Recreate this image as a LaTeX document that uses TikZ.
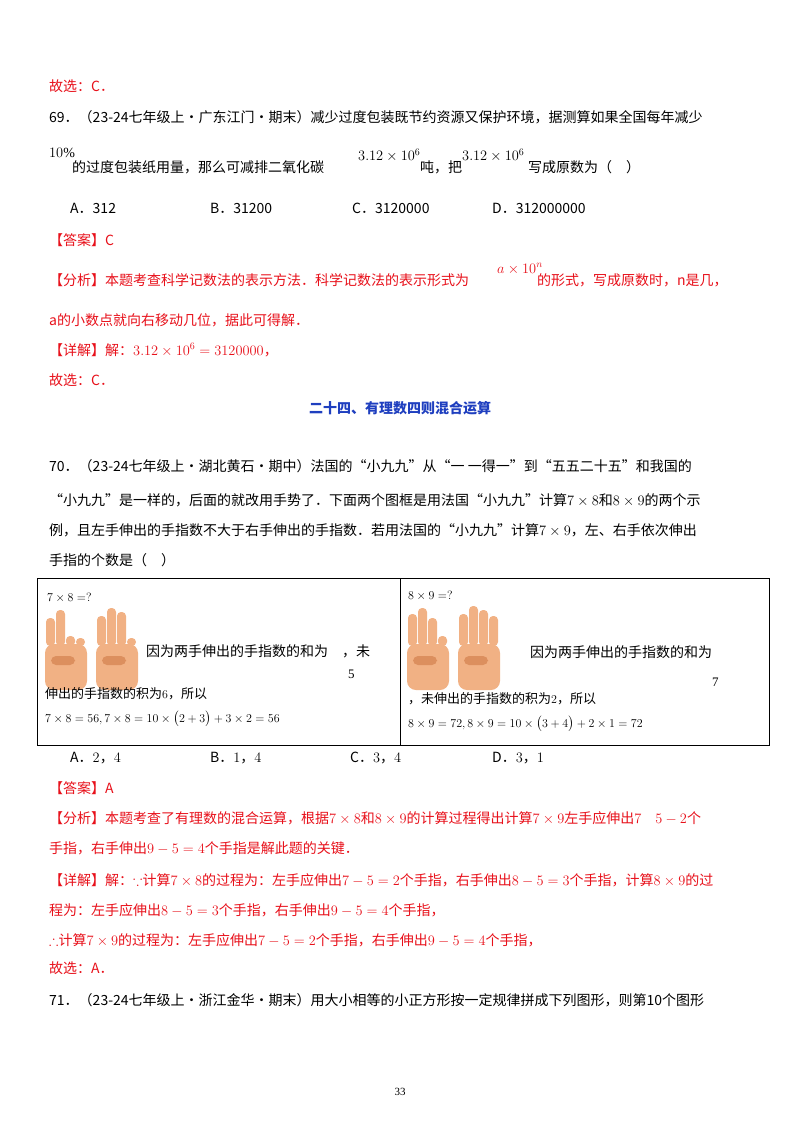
\documentclass[tikz,border=0pt]{standalone}
\usepackage{fontspec}
\usepackage{amsmath,amssymb}
\setmainfont{Liberation Serif}
\newfontfamily\cjk{Noto Sans CJK SC}
\definecolor{ansred}{HTML}{E8101A}
\definecolor{headblue}{HTML}{1F3FBF}
\definecolor{skin}{HTML}{F1B184}
\definecolor{skind}{HTML}{DC8F5E}
\tikzset{t/.style={anchor=west,inner sep=0pt,font=\cjk\fontsize{14}{16}\selectfont},
 r/.style={t,text=ansred},
 bt/.style={t,font=\cjk\fontsize{13}{14}\selectfont},
 box/.style={draw,line width=1pt}}
\newcommand{\myhand}[3]{% x, y(top of palm), finger heights list
 \foreach \h [count=\i] in {#3}{
   \fill[skin,rounded corners=4pt] ({#1+1+(\i-1)*10},#2+4) rectangle ++(9,\h);
 }
 \fill[skin,rounded corners=9pt] (#1,#2+6) rectangle ++(42,-46);
 \fill[skind,rounded corners=5pt] ({#1+6},#2-6) rectangle ++(24,-9);
}
\begin{document}
\begin{tikzpicture}[x=1pt,y=1pt]
\useasboundingbox[fill=white] (0,0) rectangle (800,-1132);
\node[r] (l1) at (49,-86) {故选：C．};
\node[t] (q69) at (49,-117) {69．（23-24七年级上·广东江门·期末）减少过度包装既节约资源又保护环境，据测算如果全国每年减少};
\node[t] (p10) at (49,-153) {$10\%$};
\node[t] (q69b) at (72,-167) {的过度包装纸用量，那么可减排二氧化碳};
\node[t] (n1) at (358,-155) {$3.12\times10^{6}$};
\node[t] (q69c) at (420,-167) {吨，把};
\node[t] (n2) at (462,-155) {$3.12\times10^{6}$};
\node[t] (q69d) at (528,-167) {写成原数为（\quad）};
\node[t] (oA) at (70,-208) {A．312};
\node[t] (oB) at (210,-208) {B．31200};
\node[t] (oC) at (352,-208) {C．3120000};
\node[t] (oD) at (492,-208) {D．312000000};
\node[r] (ans) at (49,-240) {【答案】C};
\node[r] (an1) at (49,-280) {【分析】本题考查科学记数法的表示方法．科学记数法的表示形式为};
\node[t,text=ansred] (an1m) at (497,-269) {$a\times10^{n}$};
\node[r] (an1b) at (537,-280) {的形式，写成原数时，\textit{n}是几，};
\node[r] (an2) at (49,-320) {\textit{a}的小数点就向右移动几位，据此可得解．};
\node[r] (det) at (49,-350) {【详解】解：$3.12\times10^{6}=3120000$，};
\node[r] (l2) at (49,-380) {故选：C．};
\node[t,anchor=center,text=headblue,font=\cjk\bfseries\fontsize{14}{16}\selectfont] (hd) at (400,-408) {二十四、有理数四则混合运算};
\node[t] (q70) at (49,-466) {70．（23-24七年级上·湖北黄石·期中）法国的“小九九”从“一\ 一得一”到“五五二十五”和我国的};
\node[t] (q70b) at (49,-500) {“小九九”是一样的，后面的就改用手势了．下面两个图框是用法国“小九九”计算$7\times8$和$8\times9$的两个示};
\node[t] (q70c) at (49,-530) {例，且左手伸出的手指数不大于右手伸出的手指数．若用法国的“小九九”计算$7\times9$，左、右手依次伸出};
\node[t] (q70d) at (49,-560) {手指的个数是（\quad）};
% box
\draw[box] (37,-578) rectangle (769,-745);
\draw[box] (400,-578) -- (400,-745);
\node[t,font=\fontsize{12}{14}\selectfont] (e1) at (47,-598) {$7\times8=?$};
\myhand{45}{-650}{28,36,10,8}
\myhand{96}{-650}{30,38,34,8}
\node[t] (b1) at (146,-651) {因为两手伸出的手指数的和为\quad ，未};
\node[t,font=\fontsize{13}{14}\selectfont] (b1n) at (348,-674) {5};
\node[bt] (b1b) at (45,-694) {伸出的手指数的积为$6$，所以};
\node[t,font=\fontsize{13}{15}\selectfont] (b1c) at (45,-719) {$7\times8=56,7\times8=10\times\bigl(2+3\bigr)+3\times2=56$};
\node[t,font=\fontsize{12}{14}\selectfont] (e2) at (408,-596) {$8\times9=?$};
\myhand{407}{-650}{32,38,28,10}
\myhand{458}{-650}{32,40,36,30}
\node[t] (b2) at (530,-652) {因为两手伸出的手指数的和为};
\node[t,font=\fontsize{13}{14}\selectfont] (b2n) at (712,-682) {7};
\node[bt] (b2b) at (408,-699) {，未伸出的手指数的积为$2$，所以};
\node[t,font=\fontsize{13}{15}\selectfont] (b2c) at (408,-724) {$8\times9=72,8\times9=10\times\bigl(3+4\bigr)+2\times1=72$};
\node[t] (pA) at (70,-758) {A．$2$，$4$};
\node[t] (pB) at (210,-758) {B．$1$，$4$};
\node[t] (pC) at (350,-758) {C．$3$，$4$};
\node[t] (pD) at (492,-758) {D．$3$，$1$};
\node[r] (ans2) at (49,-788) {【答案】A};
\node[r] (a2) at (49,-818) {【分析】本题考查了有理数的混合运算，根据$7\times8$和$8\times9$的计算过程得出计算$7\times9$左手应伸出$7\quad5-2$个};
\node[r] (a2b) at (49,-848) {手指，右手伸出$9-5=4$个手指是解此题的关键．};
\node[r] (d2) at (49,-880) {【详解】解：$\because$计算$7\times8$的过程为：左手应伸出$7-5=2$个手指，右手伸出$8-5=3$个手指，计算$8\times9$的过};
\node[r] (d2b) at (49,-910) {程为：左手应伸出$8-5=3$个手指，右手伸出$9-5=4$个手指，};
\node[r] (d2c) at (49,-940) {$\therefore$计算$7\times9$的过程为：左手应伸出$7-5=2$个手指，右手伸出$9-5=4$个手指，};
\node[r] (l3) at (49,-968) {故选：A．};
\node[t] (q71) at (49,-1000) {71．（23-24七年级上·浙江金华·期末）用大小相等的小正方形按一定规律拼成下列图形，则第10个图形};
\node[t,anchor=center,font=\fontsize{11}{12}\selectfont] (pg) at (400,-1092) {33};
\end{tikzpicture}
\end{document}
